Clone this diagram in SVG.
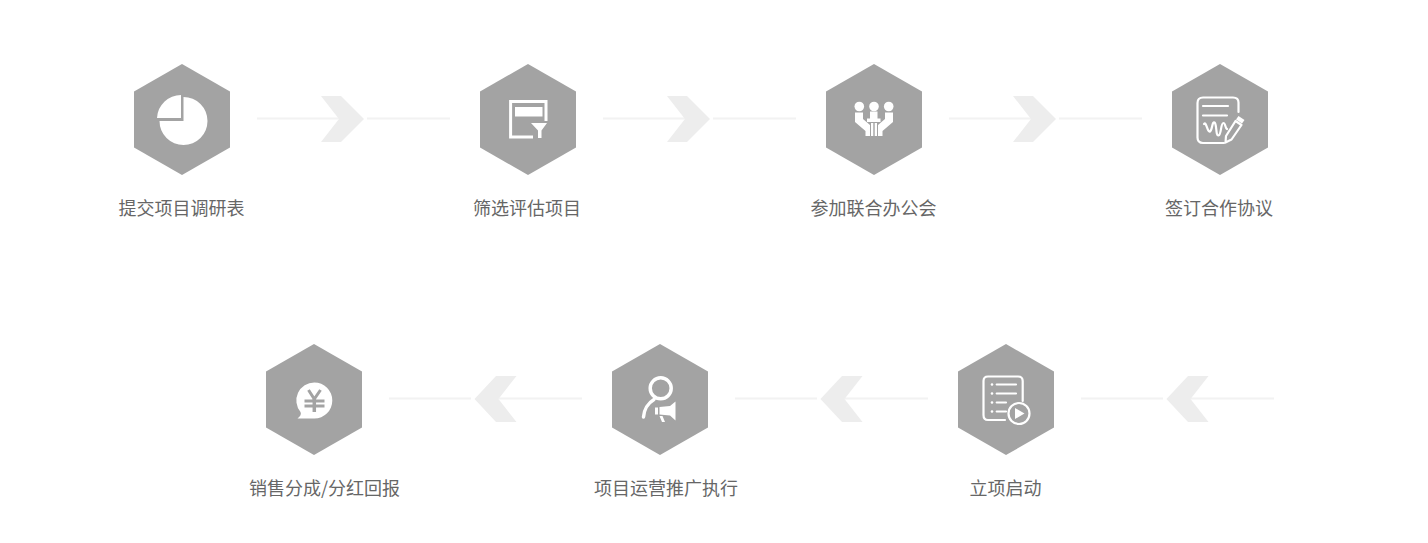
<svg xmlns="http://www.w3.org/2000/svg" width="1428" height="543" viewBox="0 0 1428 543">
<style>
.hex{fill:#a3a3a3}
.lbl{font-family:"Noto Sans CJK SC","Noto Sans",sans-serif;font-size:18px;font-weight:400;fill:#666;text-anchor:middle}
.w{fill:#fff}
.s{fill:none;stroke:#fff;stroke-width:2.2;stroke-linecap:round;stroke-linejoin:round}
.line{stroke:#f2f2f2;stroke-width:2.2;fill:none}
.chev{fill:#ededed}
</style>
<defs>
<polygon id="h" class="hex" points="0,-55.500 48,-28 48,28 0,55.500 -48,28 -48,-28"/>
<g id="ar"><path class="line" d="M257 118.500H339M367 118.500H450"/><polygon class="chev" points="321,96 341,96 364,119 341,142 321,142 339,119"/></g>
<g id="al"><path class="line" d="M1081 398.500H1163M1191 398.500H1274"/><polygon class="chev" points="1208.500,376 1188,376 1166.500,399 1188,422 1208.500,422 1190.500,399"/></g>
</defs>
<g id="connectors">
<use href="#ar"/><use href="#ar" x="346"/><use href="#ar" x="692"/>
<use href="#al"/><use href="#al" x="-346"/><use href="#al" x="-692"/>
</g>
<g id="n1"><use href="#h" x="182" y="119.500"/>
<path class="w" d="M183.500 97A24 24 0 1 1 159.500 121H183.500Z"/><path class="w" d="M181 95V118H157A24 24 0 0 1 181 95Z"/>
<text class="lbl" x="181.500" y="215">提交项目调研表</text></g>
<g id="n2"><use href="#h" x="528" y="119.500"/>
<path fill="none" stroke="#fff" stroke-width="3" d="M546 121V101.500H510.600V137H533"/><rect class="w" x="515" y="107" width="27.500" height="9.500"/>
<path class="w" d="M531 123H547L541.500 130.500V138H538V130.500Z"/>
<text class="lbl" x="527" y="215">筛选评估项目</text></g>
<g id="n3"><use href="#h" x="874" y="119.500"/>
<circle class="w" cx="859.300" cy="106.500" r="4.800"/><circle class="w" cx="874" cy="106.500" r="4.800"/><circle class="w" cx="888.700" cy="106.500" r="4.800"/>
<path class="w" d="M855 112.500H863V119L870 125V136H865.500V131L855 122ZM893 112.500H885V119L878 125V136H882.500V131L893 122ZM870 111.500H877.500V118.500H880.500V122H867V118.500H870ZM871 123H873.300V136H871ZM874.700 123H877V136H874.700Z"/>
<text class="lbl" x="873.500" y="215">参加联合办公会</text></g>
<g id="n4"><use href="#h" x="1220" y="119.500"/>
<path class="s" d="M1238.500 112V102.500Q1238.500 97.500 1233 97.500H1203Q1197.500 97.500 1197.500 103V137.500Q1197.500 143 1203 143H1224"/><path class="s" d="M1203 106H1228M1203 115.500H1227"/>
<path class="s" d="M1204 124C1206 120 1207.500 133 1210 131.500C1212.500 130 1212 121 1214.500 122.500C1217 124 1215.500 136 1218.500 135.500C1221.500 135 1220.500 123 1223.500 123C1225.500 123 1225 128 1227 129"/>
<path class="s" d="M1235.500 121L1241.500 125L1231.500 139.500L1225.500 142.500L1226 136Z"/><path class="w" d="M1236 119.500L1238.500 116L1244.500 120L1242 123.500Z"/>
<text class="lbl" x="1219" y="215">签订合作协议</text></g>
<g id="n5"><use href="#h" x="1006" y="399.500"/>
<path class="s" d="M1022.700 401V381Q1022.700 376.500 1018 376.500H988Q983.500 376.500 983.500 381V415Q983.500 420 988 420H1005"/>
<path class="s" d="M996.700 384.500H1016M996.700 393.500H1016M996.700 402.500H1006M996.700 411.500H1006"/>
<circle class="w" cx="992" cy="384.500" r="1.300"/><circle class="w" cx="992" cy="393.500" r="1.300"/><circle class="w" cx="992" cy="402.500" r="1.300"/><circle class="w" cx="992" cy="411.500" r="1.300"/>
<circle class="s" cx="1019" cy="413.500" r="10.500"/><path class="w" d="M1015 408V419L1024.500 413.500Z"/>
<text class="lbl" x="1005.500" y="495">立项启动</text></g>
<g id="n6"><use href="#h" x="660" y="399.500"/>
<circle cx="660.700" cy="388.300" r="10.500" fill="none" stroke="#fff" stroke-width="3.500"/><path fill="none" stroke="#fff" stroke-width="3.500" stroke-linecap="round" d="M654 399.500C648 403 644 410 643.500 417"/>
<path class="w" d="M659.500 407L670 406L675.500 401.500V420.500L670 415.500L659.500 414.500ZM655 407.500H658V414.500H655ZM659.500 416L662.500 416L665 422L662 422Z"/>
<text class="lbl" x="666" y="495">项目运营推广执行</text></g>
<g id="n7"><use href="#h" x="314" y="399.500"/>
<path class="w" d="M314.300 382.500A18 18 0 1 1 314.300 418.500H297.500Q302 415 300.500 412A18 18 0 0 1 314.300 382.500Z"/>
<path fill="none" stroke="#a3a3a3" stroke-width="3" d="M308.500 390L314.300 399L320.500 390M304.500 401H324.500M304.500 406H324.500"/><path fill="none" stroke="#a3a3a3" stroke-width="3.500" d="M314.300 399V412"/>
<text class="lbl" x="324.500" y="495">销售分成/分红回报</text></g>
</svg>
